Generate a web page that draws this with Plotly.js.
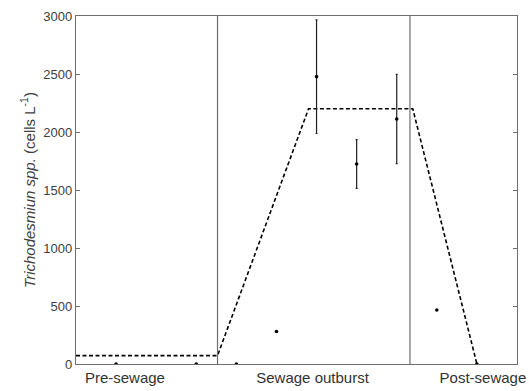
<!DOCTYPE html>
<html>
<head>
<meta charset="utf-8">
<script src="https://cdn.plot.ly/plotly-3.0.1.min.js"></script>
<style>html,body{margin:0;padding:0;background:#fff;}#chart{width:529px;height:391px;}</style>
</head>
<body>
<div id="chart"></div>
<script>
// Sampling days and cell counts
var sampleDays = [10, 30, 40, 50, 60, 70, 80, 90, 100];
var cellCounts = [0, 0, 0, 280, 2477, 1724, 2112, 465, 0];
var cellErrors = [0, 0, 0, 0, 490, 210, 385, 0, 0];

// Dashed trend (phase model)
var trendDays = [0, 35.3, 58, 84, 100];
var trendValues = [72, 72, 2200, 2200, 0];

// Phase boundaries
var phaseBounds = [35.3, 83.3];

// Phase labels
var phaseLabelPos = [12.2, 59, 101.5];
var phaseLabels = ["Pre-sewage", "Sewage outburst", "Post-sewage"];

var yTicks = [0, 500, 1000, 1500, 2000, 2500, 3000];

var traces = [
  {
    x: trendDays, y: trendValues, type: 'scatter', mode: 'lines',
    line: {color: '#000', width: 1.6, dash: '4px,2.5px'}, hoverinfo: 'skip'
  },
  {
    x: sampleDays, y: cellCounts, type: 'scatter', mode: 'markers',
    marker: {color: '#000', size: 3.6},
    error_y: {type: 'data', array: cellErrors, visible: true, color: '#222', thickness: 1.2, width: 1}
  }
];

var shapes = phaseBounds.map(function (b) {
  return {type: 'line', xref: 'x', yref: 'paper', x0: b, x1: b, y0: 0, y1: 1,
          line: {color: '#6e6e6e', width: 1.2}};
});

var layout = {
  width: 529, height: 391,
  margin: {l: 76, r: 12, t: 16, b: 27},
  paper_bgcolor: '#fff', plot_bgcolor: '#fff',
  showlegend: false,
  font: {family: 'Liberation Sans, Arial, sans-serif', color: '#404040', size: 13},
  xaxis: {
    range: [0, 110], showgrid: false, zeroline: false,
    showline: true, linecolor: '#6e6e6e', linewidth: 1.2, mirror: true,
    tickmode: 'array', tickvals: phaseLabelPos, ticktext: phaseLabels,
    ticks: '', tickfont: {size: 15, color: '#333'}
  },
  yaxis: {
    range: [0, 3000], showgrid: false, zeroline: false,
    showline: true, linecolor: '#6e6e6e', linewidth: 1.2, mirror: 'ticks',
    tickmode: 'array', tickvals: yTicks,
    ticks: 'inside', ticklen: 4, tickcolor: '#6e6e6e',
    tickfont: {size: 13, color: '#404040'},
    title: {text: '<i>Trichodesmiun spp.</i> (cells L<sup>-1</sup>)', font: {size: 15, color: '#404040'}, standoff: 4}
  },
  shapes: shapes
};

Plotly.newPlot('chart', traces, layout, {displayModeBar: false, staticPlot: true});
</script>
</body>
</html>
